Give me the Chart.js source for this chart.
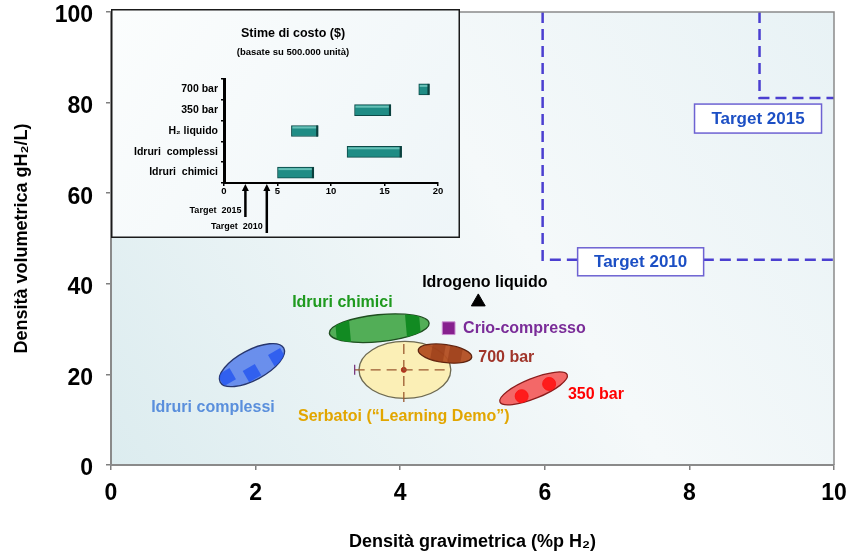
<!DOCTYPE html>
<html lang="it">
<head>
<meta charset="utf-8">
<title>Densità di stoccaggio dell'idrogeno</title>
<script src="https://cdn.jsdelivr.net/npm/chart.js@4.4.0/dist/chart.umd.min.js"></script>
<style>
  html, body { margin: 0; padding: 0; background: #fff; }
  #contenitore { position: relative; width: 848px; height: 556px; }
  #grafico { position: absolute; left: 0; top: 0; }
  #riquadro { position: absolute; left: 111px; top: 9px; }
</style>
</head>
<body>
<div id="contenitore">
  <canvas id="grafico" width="848" height="556"></canvas>
  <canvas id="riquadro" width="349" height="229"></canvas>
</div>
<script>
// ---- Dati: densità gravimetrica (%p H2) e volumetrica (g H2/L) ----
const tickX = [0, 2, 4, 6, 8, 10];
const tickY = [0, 20, 40, 60, 80, 100];

const idrogenoLiquido = [{ x: 5.08, y: 36.0 }];
const crioCompresso = [{ x: 4.67, y: 30.2 }];

// estremi dell'asse lungo di ogni area tecnologica
const idruriComplessi = [{ x: 1.51, y: 18.3 }, { x: 2.39, y: 25.8 }];
const idruriChimici = [{ x: 3.02, y: 29.1 }, { x: 4.40, y: 31.3 }];
const bar700 = [{ x: 4.25, y: 25.4 }, { x: 4.99, y: 23.8 }];
const bar350 = [{ x: 5.38, y: 13.9 }, { x: 6.31, y: 19.9 }];
const serbatoi = [{ x: 3.43, y: 21.0 }, { x: 4.70, y: 21.0 }];

// dimostratori: media e campo di variazione
const serbatoiCentro = [{ x: 4.05, y: 21.0 }];
const serbatoiCampoX = [{ x: 3.37, y: 21.0 }, { x: 4.62, y: 21.0 }];
const serbatoiCampoY = [{ x: 4.05, y: 13.9 }, { x: 4.05, y: 27.6 }];

// zone più dense dentro le aree
const macchieComplessi = [{ x: 1.60, y: 19.4 }, { x: 1.95, y: 20.3 }, { x: 2.30, y: 23.8 }];
const macchieChimici = [{ x: 3.21, y: 29.4 }, { x: 4.18, y: 30.2 }];
const macchie700 = [{ x: 4.52, y: 24.7 }, { x: 4.76, y: 24.3 }];
const macchie350 = [{ x: 5.68, y: 15.2 }, { x: 6.06, y: 17.9 }];

// obiettivi DOE
const target2010 = [{ x: 5.97, y: 100 }, { x: 5.97, y: 45.3 }, { x: 10, y: 45.3 }];
const target2015 = [{ x: 8.97, y: 100 }, { x: 8.97, y: 81 }, { x: 10, y: 81 }];

// ---- Dati del riquadro: stime di costo ($/kWh) ----
const costoCategorie = ['700 bar', '350 bar', 'H\u2082 liquido', 'Idruri  complessi', 'Idruri  chimici'];
const costoMin = [18.2, 12.2, 6.3, 11.5, 5.0];
const costoMax = [19.2, 15.6, 8.8, 16.6, 8.4];
const costoTick = [0, 5, 10, 15, 20];
const costoTarget = [2, 4];
const costoTargetNomi = ['Target  2015', 'Target  2010'];

const FONT = "'Liberation Sans', Arial, Helvetica, sans-serif";
Chart.defaults.font.family = FONT;
Chart.defaults.color = '#000';

// piccolo rettangolo usato come marker per le zone dense
function macchia(w, h, colore) {
  const c = document.createElement('canvas');
  c.width = w; c.height = h;
  const g = c.getContext('2d');
  g.fillStyle = colore;
  g.fillRect(0, 0, w, h);
  return c;
}

function percorsoEllisse(ctx, meta, spessore) {
  const p1 = meta.data[0], p2 = meta.data[meta.data.length - 1];
  const cx = (p1.x + p2.x) / 2, cy = (p1.y + p2.y) / 2;
  const rx = Math.hypot(p2.x - p1.x, p2.y - p1.y) / 2;
  const ang = Math.atan2(p2.y - p1.y, p2.x - p1.x);
  ctx.beginPath();
  ctx.ellipse(cx, cy, rx, spessore / 2, ang, 0, Math.PI * 2);
}

function indiceDataset(chart, label) {
  return chart.data.datasets.findIndex(d => d.label === label);
}

const sfondoPlugin = {
  id: 'sfondo',
  beforeDraw(chart) {
    const { ctx, chartArea: a } = chart;
    ctx.save();
    ctx.fillStyle = '#fff';
    ctx.fillRect(0, 0, chart.width, chart.height);
    const g = ctx.createLinearGradient(a.left, a.bottom, a.right, a.top);
    g.addColorStop(0, '#dcecef');
    g.addColorStop(0.55, '#f5f9fa');
    g.addColorStop(1, '#e8f2f5');
    ctx.fillStyle = g;
    ctx.fillRect(a.left, a.top, a.width, a.height);
    ctx.restore();
  },
  afterDraw(chart) {
    const { ctx, chartArea: a } = chart;
    ctx.save();
    ctx.strokeStyle = '#8a8a8a';
    ctx.lineWidth = 1.5;
    ctx.beginPath();
    ctx.moveTo(a.left, a.top);
    ctx.lineTo(a.right, a.top);
    ctx.lineTo(a.right, a.bottom);
    ctx.stroke();
    ctx.restore();
  }
};

// aree ellittiche disegnate sotto ai marker
const areePlugin = {
  id: 'aree',
  beforeDatasetsDraw(chart, args, opts) {
    const ctx = chart.ctx;
    opts.ordine.forEach(label => {
      const i = indiceDataset(chart, label);
      const r = chart.data.datasets[i].regione;
      ctx.save();
      percorsoEllisse(ctx, chart.getDatasetMeta(i), r.spessore);
      ctx.fillStyle = r.riempimento;
      ctx.fill();
      ctx.lineWidth = 1.3;
      ctx.strokeStyle = r.bordo;
      ctx.stroke();
      ctx.restore();
    });
  },
  beforeDatasetDraw(chart, args) {
    const ds = chart.data.datasets[args.index];
    if (!ds.dentro) return;
    const i = indiceDataset(chart, ds.dentro);
    chart.ctx.save();
    percorsoEllisse(chart.ctx, chart.getDatasetMeta(i), chart.data.datasets[i].regione.spessore);
    chart.ctx.clip();
  },
  afterDatasetDraw(chart, args) {
    if (chart.data.datasets[args.index].dentro) chart.ctx.restore();
  }
};

const etichettePlugin = {
  id: 'etichette',
  afterDatasetsDraw(chart, args, opts) {
    const { ctx, scales: { x, y } } = chart;
    ctx.save();
    ctx.textBaseline = 'middle';
    opts.testi.forEach(t => {
      ctx.font = 'bold 16px ' + FONT;
      ctx.fillStyle = t.colore;
      ctx.textAlign = t.allinea;
      ctx.fillText(t.testo, x.getPixelForValue(t.x), y.getPixelForValue(t.y));
    });
    // riquadri degli obiettivi, agganciati all'angolo della linea
    opts.riquadri.forEach(b => {
      const meta = chart.getDatasetMeta(indiceDataset(chart, b.linea));
      const p = meta.data[1];
      const l = p.x + b.dx, t = p.y + b.dy;
      ctx.fillStyle = '#fff';
      ctx.fillRect(l, t, b.w, b.h);
      ctx.strokeStyle = '#6d62d2';
      ctx.lineWidth = 1.5;
      ctx.strokeRect(l, t, b.w, b.h);
      ctx.font = 'bold 17px ' + FONT;
      ctx.fillStyle = '#1c4fc4';
      ctx.textAlign = 'center';
      ctx.fillText(b.linea, l + b.w / 2, t + b.h / 2 + 1);
    });
    ctx.restore();
  }
};

const puntoBase = { type: 'scatter', showLine: false, pointRadius: 0, pointHoverRadius: 0 };

new Chart(document.getElementById('grafico'), {
  type: 'scatter',
  data: {
    datasets: [
      { ...puntoBase, label: 'Idrogeno liquido', data: idrogenoLiquido, pointStyle: 'triangle',
        pointRadius: 8, backgroundColor: '#000', borderColor: '#000' },
      { ...puntoBase, label: 'Crio-compresso', data: crioCompresso, pointStyle: 'rect',
        pointRadius: 9, backgroundColor: '#86208e', borderColor: '#c98ad0', borderWidth: 1 },
      { ...puntoBase, label: 'Target 2010', data: target2010, showLine: true,
        borderColor: '#4b3fd0', borderWidth: 2.5, borderDash: [11, 6] },
      { ...puntoBase, label: 'Target 2015', data: target2015, showLine: true,
        borderColor: '#4b3fd0', borderWidth: 2.5, borderDash: [11, 6] },
      { ...puntoBase, label: 'campo X', data: serbatoiCampoX, showLine: true,
        borderColor: '#9b5a30', borderWidth: 1.3, borderDash: [10, 6],
        pointStyle: 'line', pointRotation: 90, pointRadius: [5, 0], pointBorderColor: '#7a3a80' },
      { ...puntoBase, label: 'campo Y', data: serbatoiCampoY, showLine: true,
        borderColor: '#9b5a30', borderWidth: 1.3, borderDash: [10, 6] },
      { ...puntoBase, label: 'centro', data: serbatoiCentro, pointRadius: 2.5,
        backgroundColor: '#b0301c', borderColor: '#b0301c' },
      { ...puntoBase, label: 'm350', data: macchie350, dentro: '350 bar', pointRadius: 6.5,
        backgroundColor: 'rgba(255,20,20,0.9)', borderColor: 'rgba(255,20,20,0.9)' },
      { ...puntoBase, label: 'm700', data: macchie700, dentro: '700 bar', pointRadius: 6,
        pointStyle: macchia(13, 20, 'rgba(140,48,16,0.45)'), pointRotation: 10 },
      { ...puntoBase, label: 'mChimici', data: macchieChimici, dentro: 'Idruri chimici', pointRadius: 6,
        pointStyle: macchia(14, 32, '#128a22'), pointRotation: -5 },
      { ...puntoBase, label: 'mComplessi', data: macchieComplessi, dentro: 'Idruri complessi', pointRadius: 6,
        pointStyle: macchia(14, 13, 'rgba(30,80,240,0.75)'), pointRotation: -30 },
      { ...puntoBase, label: 'Idruri complessi', data: idruriComplessi,
        regione: { spessore: 30, riempimento: 'rgba(95,135,235,0.92)', bordo: '#27366e' } },
      { ...puntoBase, label: 'Idruri chimici', data: idruriChimici,
        regione: { spessore: 27, riempimento: 'rgba(74,170,78,0.95)', bordo: '#1f4e20' } },
      { ...puntoBase, label: '700 bar', data: bar700,
        regione: { spessore: 18, riempimento: 'rgba(178,78,34,0.95)', bordo: '#5e2410' } },
      { ...puntoBase, label: '350 bar', data: bar350,
        regione: { spessore: 20, riempimento: 'rgba(242,96,96,0.95)', bordo: '#8c1c1c' } },
      { ...puntoBase, label: 'Serbatoi', data: serbatoi,
        regione: { spessore: 57, riempimento: 'rgba(252,238,178,0.95)', bordo: '#6e6a52' } }
    ]
  },
  options: {
    responsive: false,
    animation: false,
    devicePixelRatio: 1,
    layout: { padding: { top: 12, right: 14, left: 0, bottom: 0 } },
    plugins: {
      legend: { display: false },
      tooltip: { enabled: false },
      aree: { ordine: ['Serbatoi', 'Idruri chimici', '700 bar', 'Idruri complessi', '350 bar'] },
      etichette: {
        testi: [
          { testo: 'Idrogeno liquido', x: 5.17, y: 40.2, colore: '#000', allinea: 'center' },
          { testo: 'Idruri chimici', x: 3.2, y: 35.8, colore: '#1f9a1f', allinea: 'center' },
          { testo: 'Crio-compresso', x: 4.87, y: 30.2, colore: '#7a2c98', allinea: 'left' },
          { testo: '700 bar', x: 5.08, y: 23.6, colore: '#a0352a', allinea: 'left' },
          { testo: '350 bar', x: 6.32, y: 15.5, colore: '#ff0000', allinea: 'left' },
          { testo: 'Idruri complessi', x: 1.41, y: 12.6, colore: '#5a8fdc', allinea: 'center' },
          { testo: 'Serbatoi (\u201CLearning Demo\u201D)', x: 4.05, y: 10.6, colore: '#e2a600', allinea: 'center' }
        ],
        riquadri: [
          { linea: 'Target 2010', dx: 35, dy: -12, w: 126, h: 28 },
          { linea: 'Target 2015', dx: -65, dy: 6, w: 127, h: 29 }
        ]
      }
    },
    scales: {
      x: {
        type: 'linear', min: 0, max: 10,
        afterBuildTicks(s) { s.ticks = tickX.map(v => ({ value: v })); },
        afterFit(s) { s.height = 91; s.paddingLeft = 0; s.paddingRight = 0; },
        ticks: { font: { size: 23, weight: 'bold', lineHeight: 1 }, padding: 12, color: '#000' },
        grid: { drawOnChartArea: false, tickLength: 5, color: '#7f7f7f', lineWidth: 1.5 },
        border: { color: '#8a8a8a', width: 2 },
        title: { display: true, text: 'Densità gravimetrica (%p H\u2082)', color: '#000',
          font: { size: 18, weight: 'bold' }, padding: { top: 0, bottom: 3 } }
      },
      y: {
        type: 'linear', min: 0, max: 100,
        afterBuildTicks(s) { s.ticks = tickY.map(v => ({ value: v })); },
        afterFit(s) { s.width = 111; s.paddingTop = 0; s.paddingBottom = 0; },
        ticks: { font: { size: 23, weight: 'bold', lineHeight: 1 }, padding: 13, color: '#000', labelOffset: 4 },
        grid: { drawOnChartArea: false, tickLength: 5, color: '#7f7f7f', lineWidth: 1.5 },
        border: { color: '#8a8a8a', width: 2 },
        title: { display: true, text: 'Densità volumetrica gH\u2082/L)', color: '#000',
          font: { size: 18, weight: 'bold' }, padding: { top: 11, bottom: 0 } }
      }
    }
  },
  plugins: [sfondoPlugin, areePlugin, etichettePlugin]
});

// ---- Riquadro con le stime di costo ----
const riquadroPlugin = {
  id: 'riquadro',
  beforeDraw(chart) {
    const { ctx, width, height } = chart;
    ctx.save();
    const g = ctx.createLinearGradient(0, 0, width, height);
    g.addColorStop(0, '#fbfdfd');
    g.addColorStop(1, '#eef5f8');
    ctx.fillStyle = g;
    ctx.fillRect(0, 0, width, height);
    ctx.restore();
  },
  afterDatasetsDraw(chart) {
    // bordo chiaro in alto per dare rilievo alle barre
    const ctx = chart.ctx;
    ctx.save();
    chart.getDatasetMeta(0).data.forEach(b => {
      const top = b.y - b.height / 2;
      ctx.fillStyle = 'rgba(120,205,195,0.8)';
      ctx.fillRect(Math.min(b.base, b.x) + 1, top + 1, Math.abs(b.x - b.base) - 2, 2);
      ctx.fillStyle = '#0b3f3d';
      ctx.fillRect(Math.max(b.base, b.x) - 2, top, 2, b.height);
    });
    ctx.restore();
  },
  afterDraw(chart) {
    const { ctx, width, height, scales: { x } } = chart;
    ctx.save();
    ctx.strokeStyle = '#1a1a1a';
    ctx.lineWidth = 1.5;
    ctx.strokeRect(0.75, 0.75, width - 1.5, height - 1.5);

    ctx.fillStyle = '#000';
    ctx.textAlign = 'center';
    ctx.textBaseline = 'middle';
    ctx.font = 'bold 12.5px ' + FONT;
    ctx.fillText('Stime di costo ($)', 182, 25);
    ctx.font = 'bold 9.5px ' + FONT;
    ctx.fillText('(basate su 500.000 unità)', 182, 43);

    // frecce degli obiettivi di costo sotto l'asse
    const asse = chart.chartArea.bottom;
    costoTarget.forEach((v, i) => {
      const px = x.getPixelForValue(v);
      const fondo = asse + 34 + i * 16;
      ctx.strokeStyle = '#000';
      ctx.lineWidth = 2.5;
      ctx.beginPath();
      ctx.moveTo(px, fondo);
      ctx.lineTo(px, asse + 6);
      ctx.stroke();
      ctx.beginPath();
      ctx.moveTo(px, asse + 1);
      ctx.lineTo(px - 3.5, asse + 8);
      ctx.lineTo(px + 3.5, asse + 8);
      ctx.closePath();
      ctx.fill();
      ctx.font = 'bold 9px ' + FONT;
      ctx.textAlign = 'right';
      ctx.fillText(costoTargetNomi[i], px - 4, fondo - 6);
    });
    ctx.restore();
  }
};

new Chart(document.getElementById('riquadro'), {
  type: 'bar',
  data: {
    labels: costoCategorie,
    datasets: [{
      data: costoMin.map((v, i) => [v, costoMax[i]]),
      barThickness: 11,
      backgroundColor: '#1f8c85',
      borderColor: '#0c4a48',
      borderWidth: 1,
      borderSkipped: false
    }]
  },
  options: {
    indexAxis: 'y',
    responsive: false,
    animation: false,
    devicePixelRatio: 1,
    layout: { padding: { top: 70, right: 22, left: 0, bottom: 0 } },
    plugins: { legend: { display: false }, tooltip: { enabled: false } },
    scales: {
      x: {
        type: 'linear', min: 0, max: 20,
        afterBuildTicks(s) { s.ticks = costoTick.map(v => ({ value: v })); },
        afterFit(s) { s.height = 55; s.paddingLeft = 0; s.paddingRight = 0; },
        ticks: { font: { size: 9.5, weight: 'bold' }, padding: 0, color: '#000' },
        grid: { drawOnChartArea: false, tickLength: 3, color: '#000', lineWidth: 1.5 },
        border: { color: '#000', width: 2 }
      },
      y: {
        afterFit(s) { s.width = 113; },
        ticks: { font: { size: 10.5, weight: 'bold' }, padding: 3, color: '#000' },
        grid: { drawOnChartArea: false, tickLength: 3, color: '#000', lineWidth: 1.5 },
        border: { color: '#000', width: 3 }
      }
    }
  },
  plugins: [riquadroPlugin]
});
</script>
</body>
</html>
